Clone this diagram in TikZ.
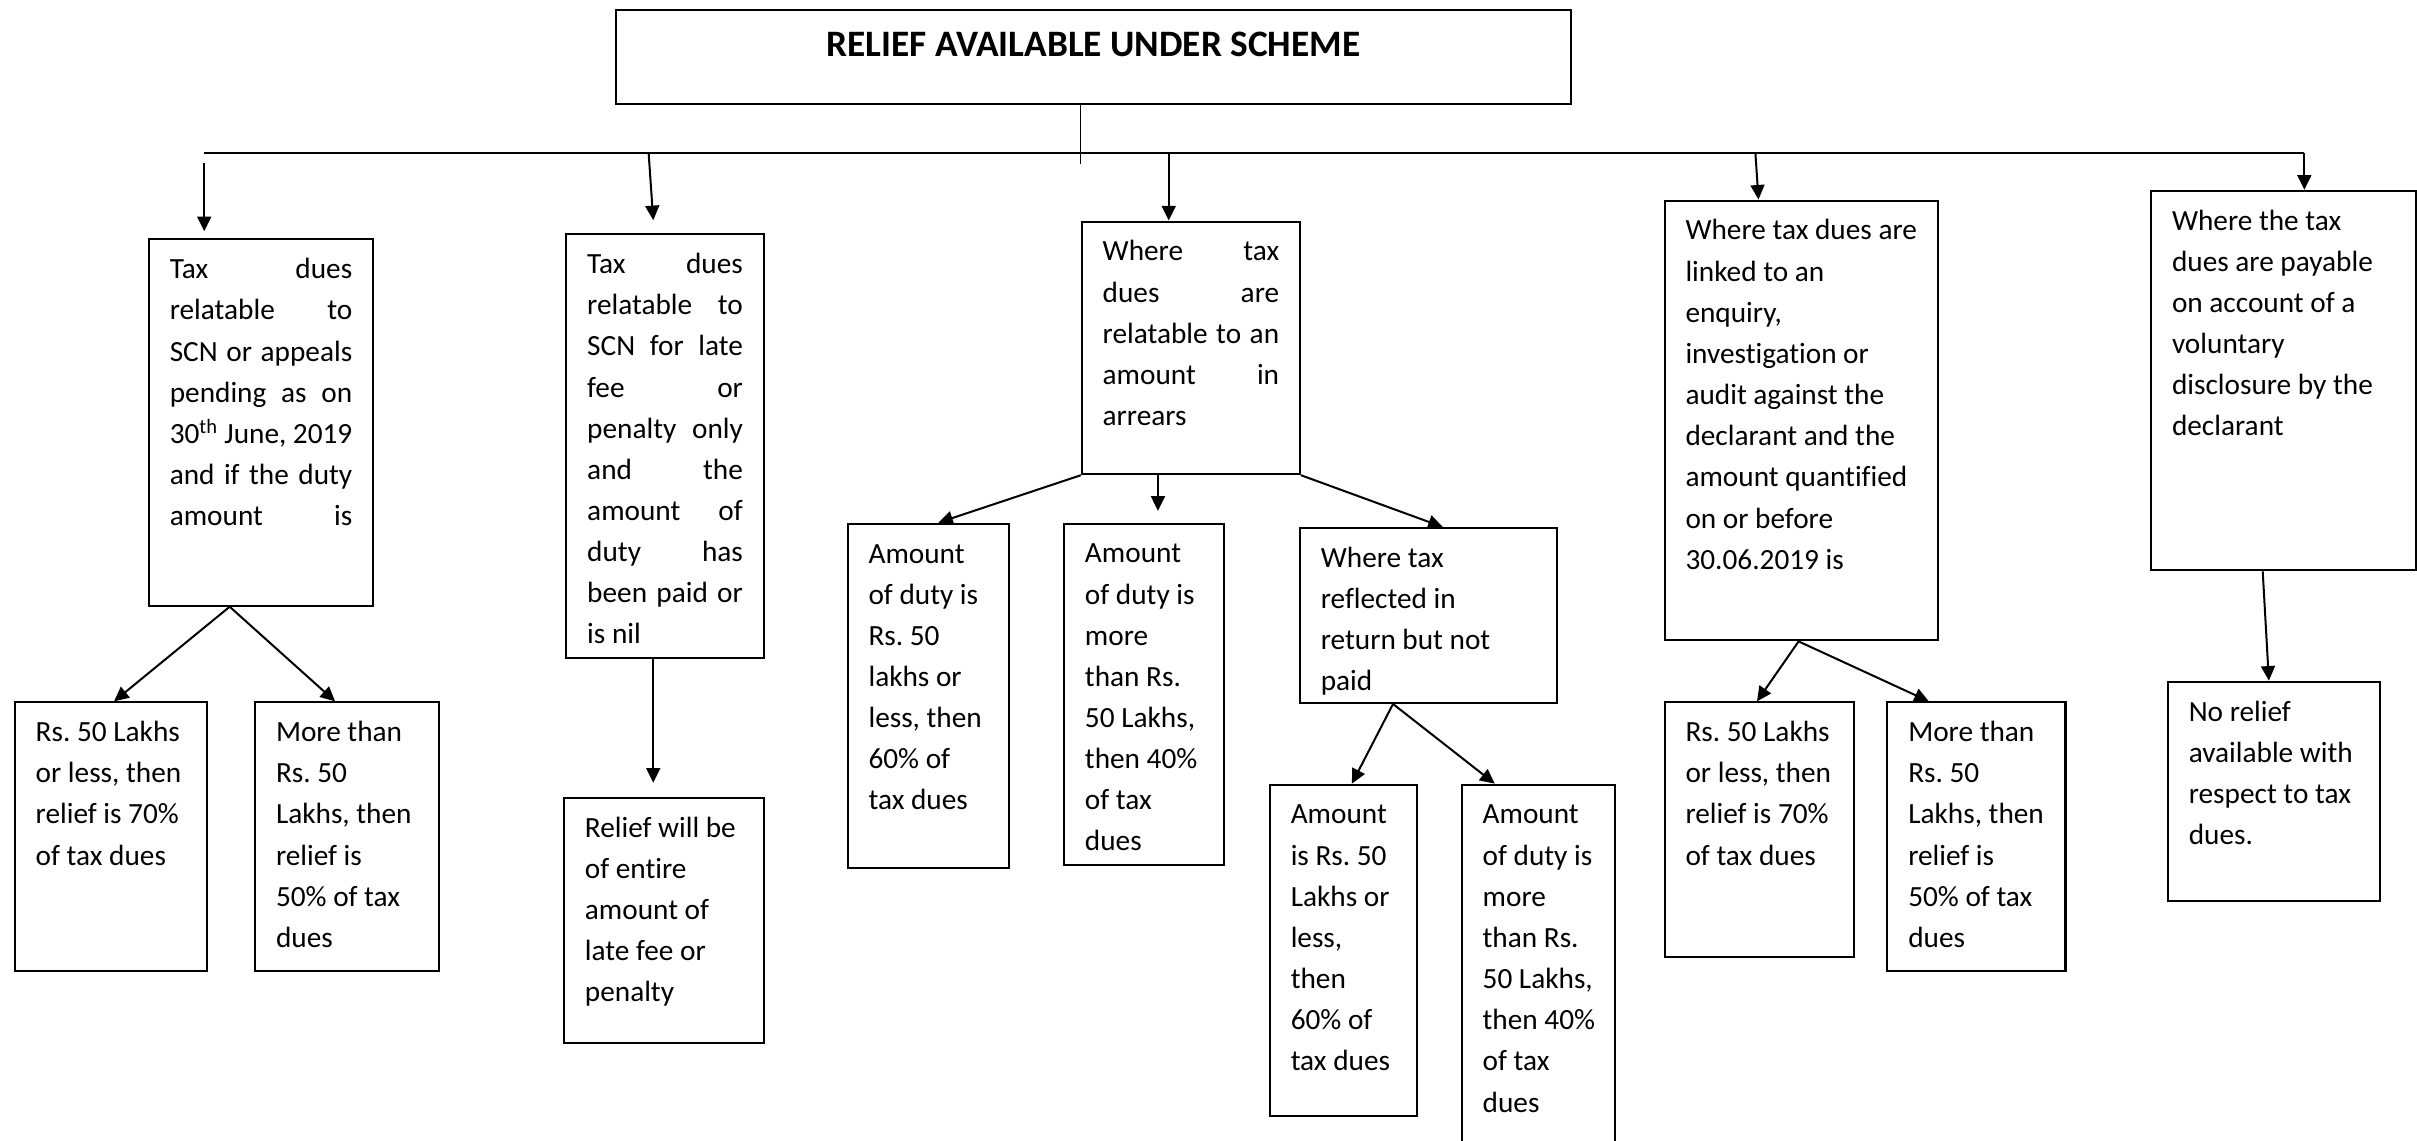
\documentclass[tikz,border=0pt]{standalone}
\usepackage{fontspec}
\setmainfont{Carlito}[Ligatures=CommonOff]
\usetikzlibrary{arrows.meta}
\frenchspacing
\newcommand\jl[1]{\makebox[\linewidth][s]{#1}}
% name, x, y, w, h, right pad, content
\newcommand\tb[7]{%
  \node[box] (#1) at (#2,#3) {\hspace*{13.5pt}\parbox[c][#5pt][t]{\dimexpr#4pt-13.5pt-#6pt\relax}{\fontsize{19}{26.7}\selectfont\frenchspacing\raggedright\rule{0pt}{25.5pt}#7}\hspace*{#6pt}};}
\tikzset{
  box/.style={draw, line width=1.3pt, anchor=north west, inner sep=0pt},
  conn/.style={line width=1.3pt},
  arr/.style={line width=1.3pt, -{Triangle[length=9.5pt,width=9pt]}},
}
\begin{document}
\begin{tikzpicture}[x=1pt,y=-1pt]
\useasboundingbox (0,0) rectangle (1568,740.2);
% title
\node[box] (T) at (398.8,5.6) {\parbox[c][61.1pt][t]{619.9pt}{\centering\fontsize{24.2}{28}\selectfont\bfseries\rule{0pt}{30.3pt}RELIEF AVAILABLE UNDER SCHEME}};
% top level
\tb{B1}{96}{154.7}{145.4}{237.6}{13.5}{\jl{Tax dues}\\\jl{relatable to}\\\jl{SCN or appeals}\\\jl{pending as on}\\\jl{30\textsuperscript{th} June, 2019}\\\jl{and if the duty}\\\jl{amount is}}
\tb{B2}{366.8}{151.3}{128}{275.2}{13.5}{\jl{Tax dues}\\\jl{relatable to}\\\jl{SCN for late}\\\jl{fee or}\\\jl{penalty only}\\\jl{and the}\\\jl{amount of}\\\jl{duty has}\\\jl{been paid or}\\is nil}
\tb{B3}{701.2}{143.1}{141.5}{163.9}{13.5}{\jl{Where tax}\\\jl{dues are}\\\jl{relatable to an}\\\jl{amount in}\\arrears}
\tb{B4}{1079.3}{129.5}{177.5}{285.3}{3}{Where tax dues are\\linked to an\\enquiry,\\investigation or\\audit against the\\declarant and the\\amount quantified\\on or before\\30.06.2019 is}
\tb{B5}{1394.9}{123.1}{171.5}{246.3}{3}{Where the tax\\dues are payable\\on account of a\\voluntary\\disclosure by the\\declarant}
% second level
\tb{B1a}{9}{455}{124.4}{174.2}{3}{Rs. 50 Lakhs\\or less, then\\relief is 70\%\\of tax dues}
\tb{B1b}{164.9}{455}{119.5}{174.2}{3}{More than\\Rs. 50\\Lakhs, then\\relief is\\50\% of tax\\dues}
\tb{B2a}{365.3}{517}{129.5}{158.7}{3}{Relief will be\\of entire\\amount of\\late fee or\\penalty}
\tb{B3a}{549.3}{339.1}{104.9}{223.3}{3}{Amount\\of duty is\\Rs. 50\\lakhs or\\less, then\\60\% of\\tax dues}
\tb{B3b}{689.7}{339}{103.5}{221.8}{3}{Amount\\of duty is\\more\\than Rs.\\50 Lakhs,\\then 40\%\\of tax\\dues}
\tb{B3c}{842.7}{341.9}{167}{113.5}{3}{Where tax\\reflected in\\return but not\\paid}
\tb{B3ca}{823.2}{508.4}{95.5}{215.1}{3}{Amount\\is Rs. 50\\Lakhs or\\less,\\then\\60\% of\\tax dues}
\tb{B3cb}{947.7}{508.4}{99.5}{260}{3}{Amount\\of duty is\\more\\than Rs.\\50 Lakhs,\\then 40\%\\of tax\\dues}
\tb{B4a}{1079.3}{455}{122.5}{165.2}{3}{Rs. 50 Lakhs\\or less, then\\relief is 70\%\\of tax dues}
\tb{B4b}{1223.8}{455}{115.5}{174.2}{3}{More than\\Rs. 50\\Lakhs, then\\relief is\\50\% of tax\\dues}
\tb{B5a}{1405.8}{441.6}{137.6}{142.4}{3}{No relief\\available with\\respect to tax\\dues.}
% bus
\coordinate (busL) at (132.5,99.5);
\coordinate (bus2) at (420.8,99.5);
\coordinate (bus3) at (758.2,99.5);
\coordinate (bus4) at (1138.8,99.5);
\coordinate (busR) at (1494.9,99.5);
\coordinate (stemEnd) at (701.2,106.5);
\draw[line width=0.8pt] (T.south -| B3.west) -- (stemEnd);
\draw[conn] (busL) -- (busR);
\draw[arr] ([yshift=-6.1pt]busL) -- ([xshift=36.5pt,yshift=4.7pt]B1.north west);
\draw[arr] (bus2) -- ([xshift=57pt,yshift=8.4pt]B2.north west);
\draw[arr] (bus3) -- (bus3 |- B3.north);
\draw[arr] (bus4) -- ([xshift=61.5pt]B4.north west);
\draw[arr] (busR) -- (busR |- B5.north);
% children
\draw[arr] ([xshift=53pt]B1.south west) -- ([xshift=65pt]B1a.north west);
\draw[arr] ([xshift=53pt]B1.south west) -- ([xshift=52.5pt]B1b.north west);
\draw[arr] ([xshift=57pt]B2.south west) -- ([xshift=58.5pt,yshift=9.2pt]B2a.north west);
\draw[arr] (B3.south west) -- ([xshift=59.4pt]B3a.north west);
\draw[arr] ([xshift=50pt]B3.south west) -- ([xshift=61.5pt,yshift=7.6pt]B3b.north west);
\draw[arr] (B3.south east) -- ([xshift=93.3pt]B3c.north west);
\draw[arr] ([xshift=61pt]B3c.south west) -- ([xshift=53.8pt]B3ca.north west);
\draw[arr] ([xshift=61pt]B3c.south west) -- ([xshift=22pt]B3cb.north west);
\draw[arr] ([xshift=87.5pt]B4.south west) -- ([xshift=60.5pt]B4a.north west);
\draw[arr] ([xshift=87.5pt]B4.south west) -- ([xshift=27.5pt]B4b.north west);
\draw[arr] ([xshift=73pt]B5.south west) -- ([xshift=66.1pt]B5a.north west);
\end{tikzpicture}
\end{document}
